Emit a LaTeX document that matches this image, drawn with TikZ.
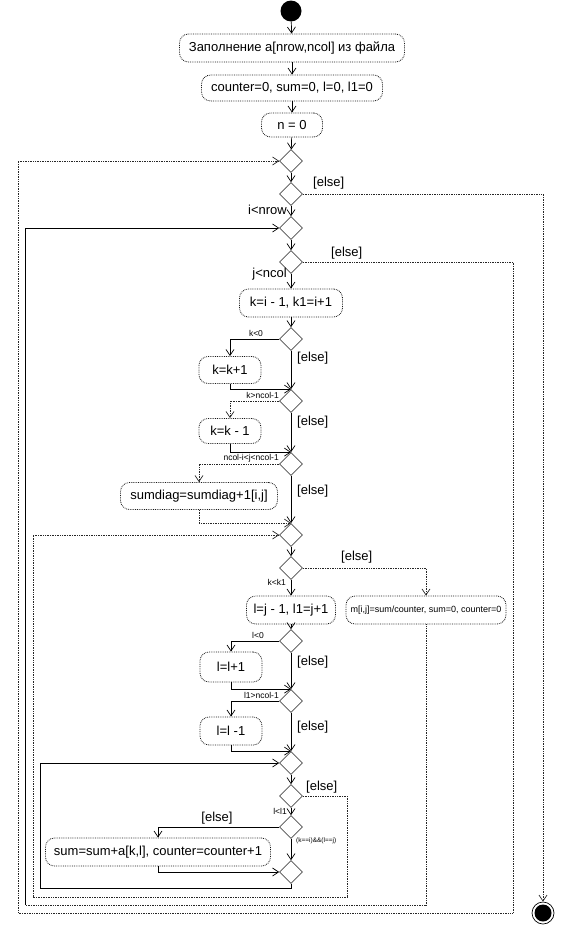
\documentclass[tikz,border=0pt]{standalone}
\usepackage{fontspec}
\setmainfont{Liberation Sans}
\usetikzlibrary{shapes.geometric,arrows.meta}
\begin{document}
\begin{tikzpicture}[x=1pt,y=-1pt,
 act/.style={draw=black!90, densely dotted, rounded corners=9pt, inner sep=0pt, line width=0.8pt, font=\fontsize{13}{15}\selectfont},
 dec/.style={draw=black!70, diamond, minimum size=23pt, inner sep=0pt, line width=0.7pt},
 flow/.style={draw=black, line width=0.7pt, -{Straight Barb[length=6pt,width=8pt]}},
 dflow/.style={flow, densely dotted, draw=black!85},
 lab/.style={font=\fontsize{13}{15}\selectfont, inner sep=0pt},
 tinylab/.style={font=\fontsize{8.5}{9}\selectfont, inner sep=0pt},
]
\useasboundingbox (0,0) rectangle (570,926);
% nodes
\node[circle, fill=black, minimum size=21pt, inner sep=0pt] (start) at (291,11) {};
\node[act, minimum width=225pt, minimum height=28pt] (b1) at (292,48) {Заполнение a[nrow,ncol] из файла};
\node[act, minimum width=181pt, minimum height=26pt] (b2) at (292,88) {counter=0, sum=0, l=0, l1=0};
\node[act, minimum width=61pt, minimum height=24pt] (b3) at (292,125) {n = 0};
\node[dec] (d1) at (291,161) {};
\node[dec] (d2) at (291,194) {};
\node[dec] (d3) at (291,228) {};
\node[dec] (d4) at (291,262) {};
\node[act, minimum width=103pt, minimum height=28pt] (bk) at (291,303) {k=i - 1, k1=i+1};
\node[dec] (d5) at (291,339) {};
\node[act, minimum width=62pt, minimum height=27pt] (bkp) at (230,370) {k=k+1};
\node[dec] (d6) at (291,401) {};
\node[act, minimum width=62pt, minimum height=25pt] (bkm) at (230,431) {k=k - 1};
\node[dec] (d7) at (291,464) {};
\node[act, minimum width=157pt, minimum height=27pt] (bsd) at (199,496) {sumdiag=sumdiag+1[i,j]};
\node[dec] (d8) at (291,535) {};
\node[dec] (d9) at (291,568) {};
\node[act, minimum width=89pt, minimum height=28pt] (bl) at (291,610) {l=j - 1, l1=j+1};
\node[act, minimum width=160pt, minimum height=28pt, font=\fontsize{9}{11}\selectfont] (bm) at (426,610) {m[i,j]=sum/counter, sum=0, counter=0};
\node[dec] (d10) at (291,641) {};
\node[act, minimum width=62pt, minimum height=30pt] (blp) at (231,667) {l=l+1};
\node[dec] (d11) at (291,701) {};
\node[act, minimum width=62pt, minimum height=28pt] (blm) at (231,731) {l=l -1};
\node[dec] (d12) at (291,763) {};
\node[dec] (d13) at (291,796) {};
\node[dec] (d14) at (291,827) {};
\node[act, minimum width=225pt, minimum height=28pt] (bs) at (158,852) {sum=sum+a[k,l], counter=counter+1};
\node[dec] (d15) at (291,872) {};
\node[circle, draw=black, line width=0.7pt, minimum size=22pt, inner sep=0pt] (end) at (543,913) {};
\node[circle, fill=black, minimum size=17pt, inner sep=0pt] (endin) at (543,913) {};
% loop corner coordinates
\coordinate (lL) at (40,888);
\coordinate (kR) at (347,897);
\coordinate (kL) at (33,897);
\coordinate (jL) at (25,905);
\coordinate (iR) at (513,913);
\coordinate (iL) at (18,913);
% main flow
\draw[flow] (start) -- (b1);
\draw[flow] (b1) -- (b2);
\draw[flow] (b2) -- (b3);
\draw[flow] (b3) -- (d1);
\draw[flow] (d1) -- (d2);
\draw[flow] (d2) -- (d3);
\draw[flow] (d3) -- (d4);
\draw[flow] (d4) -- (bk);
\draw[flow] (bk) -- (d5);
\draw[flow] (d5) -- (d6);
\draw[flow] (d5.west) -| (bkp.north);
\draw[flow] (bkp.south) |- (d6.north);
\draw[flow] (d6) -- (d7);
\draw[dflow] (d6.west) -| (bkm.north);
\draw[flow] (bkm.south) |- (d7.north);
\draw[flow] (d7) -- (d8);
\draw[dflow] (d7.west) -| (bsd.north);
\draw[dflow] (bsd.south) |- (d8.north);
\draw[flow] (d8) -- (d9);
\draw[flow] (d9) -- (bl);
\draw[dflow] (d9.east) -| (bm.north);
\draw[flow] (bl) -- (d10);
\draw[flow] (d10) -- (d11);
\draw[flow] (d10.west) -| (blp.north);
\draw[flow] (blp.south) |- (d11.north);
\draw[flow] (d11) -- (d12);
\draw[flow] (d11.west) -| (blm.north);
\draw[flow] (blm.south) |- (d12.north);
\draw[flow] (d12) -- (d13);
\draw[flow] (d13) -- (d14);
\draw[flow] (d14) -- (d15);
\draw[flow] (d14.west) -| (bs.north);
\draw[flow] (bs.south) |- (d15.west);
% loops
\draw[flow] (d15.south) |- (lL) |- (d12.west);
\draw[dflow] (d13.east) -| (kR) -- (kL) |- (d8.west);
\draw[densely dotted, line width=0.7pt, draw=black!85] (bm.south) |- (jL);
\draw[flow] (jL) |- (d3.west);
\draw[dflow] (d4.east) -| (iR) -- (iL) |- (d1.west);
\draw[dflow] (d2.east) -| (end.north);
% labels
\node[lab, anchor=south west] (le2) at (313,189) {[else]};
\node[lab, anchor=east] (li) at (287,210) {i<nrow};
\node[lab, anchor=south west] (le4) at (331,259) {[else]};
\node[lab, anchor=east] (lj) at (287,274) {j<ncol};
\node[tinylab, anchor=south] (lk0) at (256,337) {k<0};
\node[lab, anchor=west] (le5) at (297,358) {[else]};
\node[tinylab, anchor=south east] (lk1) at (279,399) {k>ncol-1};
\node[lab, anchor=west] (le6) at (297,422) {[else]};
\node[tinylab, anchor=south east] (lk2) at (279,462) {ncol-i<j<ncol-1};
\node[lab, anchor=west] (le7) at (297,491) {[else]};
\node[lab, anchor=south west] (le9) at (341,563) {[else]};
\node[tinylab, anchor=east] (lk3) at (286,582) {k<k1};
\node[tinylab, anchor=south] (ll0) at (258,639) {l<0};
\node[lab, anchor=west] (le10) at (297,662) {[else]};
\node[tinylab, anchor=south east] (ll1) at (279,699) {l1>ncol-1};
\node[lab, anchor=west] (le11) at (297,727) {[else]};
\node[lab, anchor=south west] (le13) at (306,793) {[else]};
\node[tinylab, anchor=east] (ll2) at (287,811) {l<l1};
\node[lab, anchor=south] (le14) at (217,824) {[else]};
\node[inner sep=0pt, font=\fontsize{6.5}{7}\selectfont, anchor=west] (lkl) at (296,841) {(k==i)\&\&(l==j)};
\end{tikzpicture}
\end{document}
